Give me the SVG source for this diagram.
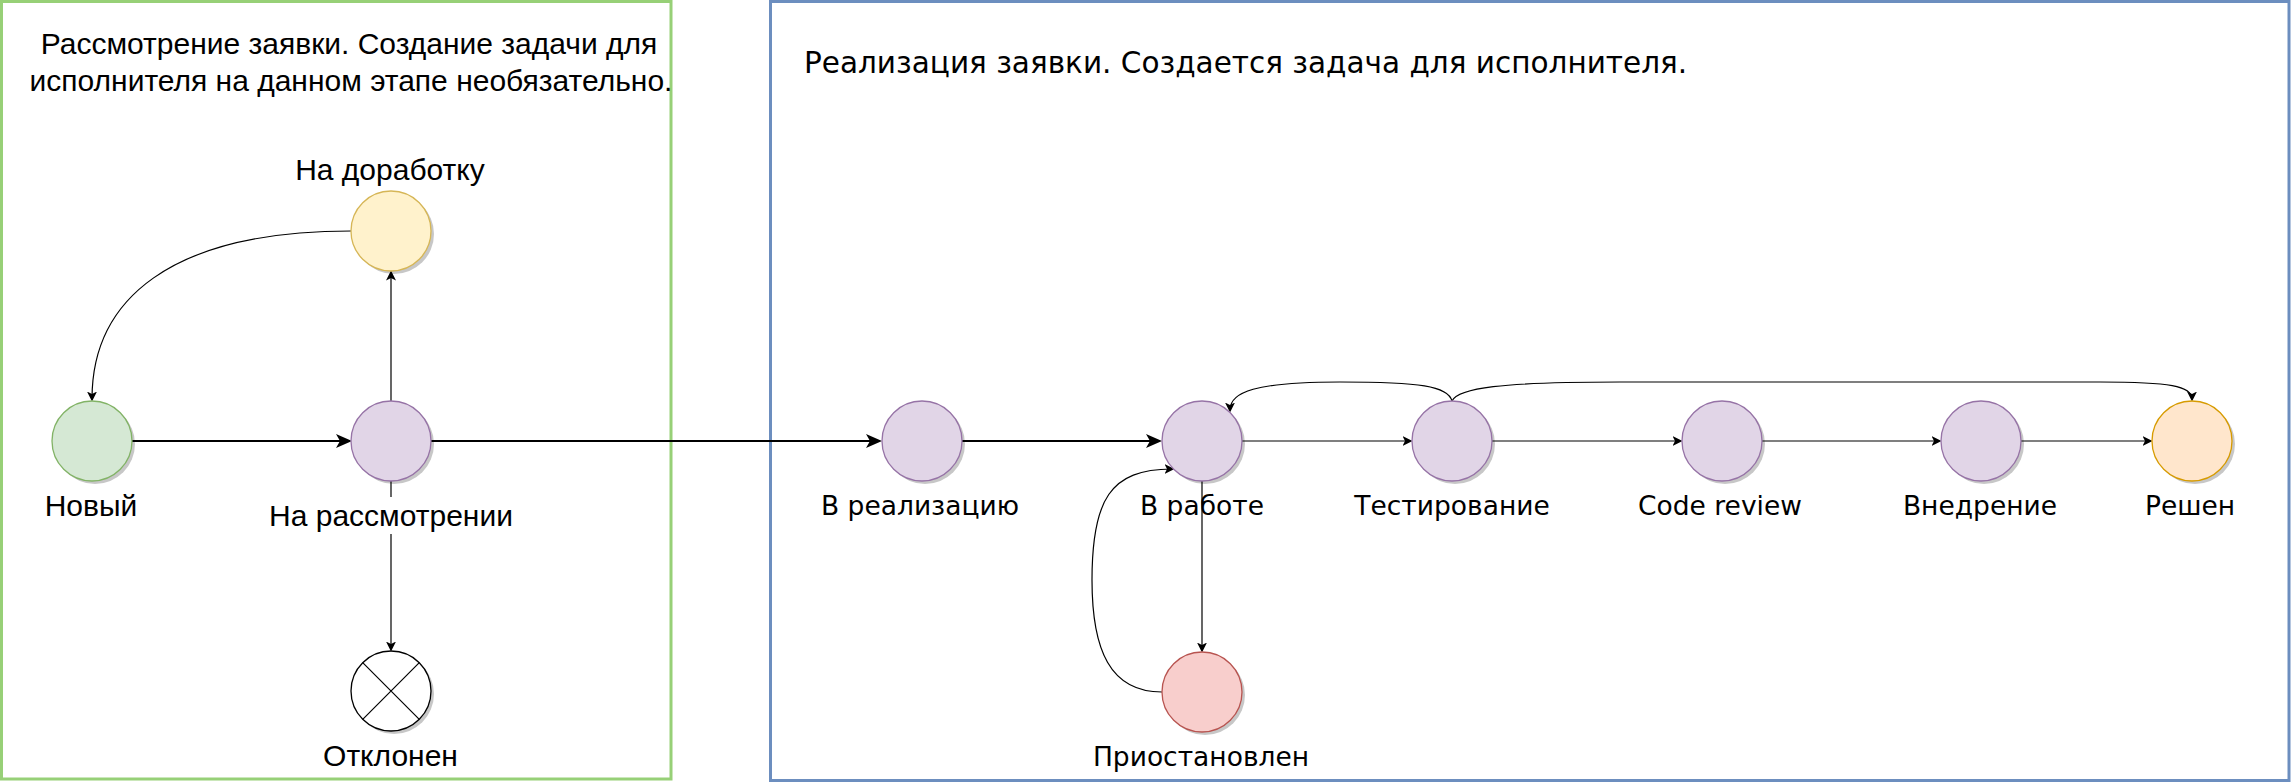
<svg xmlns="http://www.w3.org/2000/svg" width="2293" height="783" viewBox="0 0 2293 783">
<style>
.sh{fill:#000;opacity:.22}
.lbl{font-family:"Liberation Sans",Arial,sans-serif;font-size:30px;fill:#000;text-anchor:middle}
.lbl2{font-family:"DejaVu Sans",Verdana,sans-serif;font-size:26.5px;fill:#000;text-anchor:middle}
.thin{fill:none;stroke:#000;stroke-width:1.2;marker-end:url(#a1)}
.thick{fill:none;stroke:#000;stroke-width:2.2;marker-end:url(#a2)}
.purple{fill:#e1d5e7;stroke:#9673a6;stroke-width:1.3}
</style>
<defs>
<marker id="a1" markerUnits="userSpaceOnUse" markerWidth="10" markerHeight="10" viewBox="0 0 8 8" refX="6" refY="4" orient="auto"><path d="M8,4 L0,0 L2,4 L0,8 Z" fill="#000"/></marker>
<marker id="a2" markerUnits="userSpaceOnUse" markerWidth="16" markerHeight="14" viewBox="0 0 16 14" refX="12" refY="7" orient="auto"><path d="M16,7 L0,0 L4,7 L0,14 Z" fill="#000"/></marker>
</defs>
<rect width="2293" height="783" fill="#fff"/>
<g id="box-review">
<rect x="1.5" y="1.5" width="669.5" height="777.5" fill="none" stroke="#97d077" stroke-width="3"/>
<text class="lbl" x="349" y="54">Рассмотрение заявки. Создание задачи для</text>
<text class="lbl" x="351" y="91">исполнителя на данном этапе необязательно.</text>
</g>
<g id="box-impl">
<rect x="770.5" y="1.5" width="1518.5" height="779" fill="none" stroke="#6c8ebf" stroke-width="3"/>
<text x="804" y="73" font-family="DejaVu Sans, Verdana, sans-serif" font-size="29.5" fill="#000">Реализация заявки. Создается задача для исполнителя.</text>
</g>
<g id="connectors">
<path class="thick" d="M132,441 L348,441"/>
<path class="thick" d="M431,441 L878,441"/>
<path class="thick" d="M962,441 L1158,441"/>
<path class="thin" d="M1242,441 L1410,441"/>
<path class="thin" d="M1492,441 L1680,441"/>
<path class="thin" d="M1762,441 L1939,441"/>
<path class="thin" d="M2021,441 L2150,441"/>
<path class="thin" d="M391,401 L391,273"/>
<path class="thin" d="M391,481 L391,649"/>
<path class="thin" d="M351,231 C170,231 92,300 92,399"/>
<path class="thin" d="M1202,481 L1202,650"/>
<path class="thin" d="M1162,692 C1110,692 1092,650 1092,580 C1092,500 1110,469 1172,469"/>
<path class="thin" d="M1452,401 C1448,386 1420,382 1340,382 C1255,382 1230,392 1230,410"/>
<path class="thin" d="M1452,401 C1458,388 1500,382 1620,382 L2100,382 C2170,382 2192,386 2192,399"/>
</g>
<g id="n-new">
<circle class="sh" cx="95" cy="444" r="40"/>
<circle cx="92" cy="441" r="40" fill="#d5e8d4" stroke="#82b366" stroke-width="1.3"/>
<text class="lbl" x="91" y="516">Новый</text>
</g>
<g id="n-review">
<circle class="sh" cx="394" cy="444" r="40"/>
<circle class="purple" cx="391" cy="441" r="40"/>
<rect x="268" y="497" width="246" height="37" fill="#fff"/>
<text class="lbl" x="391" y="526">На рассмотрении</text>
</g>
<g id="n-rework">
<circle class="sh" cx="394" cy="234" r="40"/>
<circle cx="391" cy="231" r="40" fill="#fff2cc" stroke="#d6b656" stroke-width="1.3"/>
<text class="lbl" x="390" y="180">На доработку</text>
</g>
<g id="n-rejected">
<circle class="sh" cx="394" cy="694" r="40"/>
<circle cx="391" cy="691" r="40" fill="#fff" stroke="#000" stroke-width="1.3"/>
<path d="M362.7,662.7 L419.3,719.3 M419.3,662.7 L362.7,719.3" stroke="#000" stroke-width="1.2" fill="none"/>
<text class="lbl" x="390.5" y="766">Отклонен</text>
</g>
<g id="n-toimpl">
<circle class="sh" cx="925" cy="444" r="40"/>
<circle class="purple" cx="922" cy="441" r="40"/>
<text class="lbl2" x="920" y="515">В реализацию</text>
</g>
<g id="n-inwork">
<circle class="sh" cx="1205" cy="444" r="40"/>
<circle class="purple" cx="1202" cy="441" r="40"/>
<text class="lbl2" x="1202" y="515">В работе</text>
</g>
<g id="n-testing">
<circle class="sh" cx="1455" cy="444" r="40"/>
<circle class="purple" cx="1452" cy="441" r="40"/>
<text class="lbl2" x="1452" y="515">Тестирование</text>
</g>
<g id="n-codereview">
<circle class="sh" cx="1725" cy="444" r="40"/>
<circle class="purple" cx="1722" cy="441" r="40"/>
<text class="lbl2" x="1720" y="515">Code review</text>
</g>
<g id="n-deploy">
<circle class="sh" cx="1984" cy="444" r="40"/>
<circle class="purple" cx="1981" cy="441" r="40"/>
<text class="lbl2" x="1980" y="515">Внедрение</text>
</g>
<g id="n-solved">
<circle class="sh" cx="2195" cy="444" r="40"/>
<circle cx="2192" cy="441" r="40" fill="#ffe6cc" stroke="#d79b00" stroke-width="1.3"/>
<text class="lbl2" x="2190" y="515">Решен</text>
</g>
<g id="n-paused">
<circle class="sh" cx="1205" cy="695" r="40"/>
<circle cx="1202" cy="692" r="40" fill="#f8cecc" stroke="#b85450" stroke-width="1.3"/>
<text class="lbl2" x="1201" y="766">Приостановлен</text>
</g>
</svg>
